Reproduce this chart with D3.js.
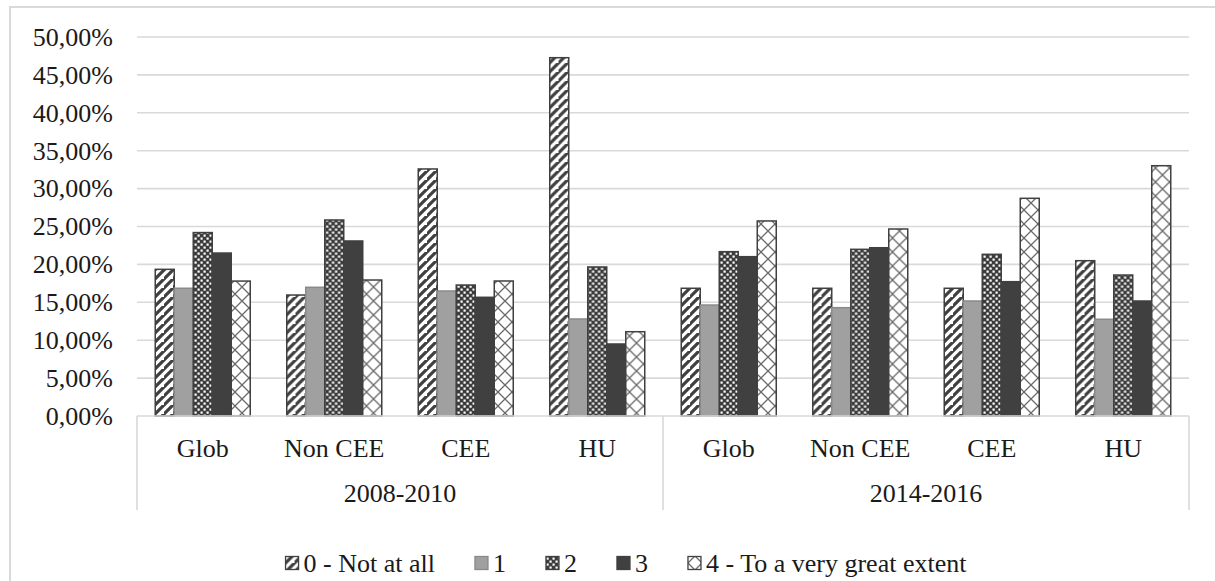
<!DOCTYPE html>
<html>
<head>
<meta charset="utf-8">
<script src="https://cdn.jsdelivr.net/npm/d3@7"></script>
<style>
  html, body { margin: 0; padding: 0; background: #fff; }
  svg { display: block; }
  text { font-family: "Liberation Serif", "Times New Roman", serif; fill: #1a1a1a; }
</style>
</head>
<body>
<svg id="chart" width="1215" height="581"></svg>
<script>
// Survey periods and regions (two-level category axis)
const periods = ["2008-2010", "2014-2016"];
const regions = ["Glob", "Non CEE", "CEE", "HU"];

// Answer scale (legend entries)
const seriesNames = ["0 - Not at all", "1", "2", "3", "4 - To a very great extent"];

// Share of answers (%) per region, 2008-2010 first then 2014-2016
const notAtAll   = [19.35, 15.96, 32.59, 47.27, 16.85, 16.85, 16.85, 20.49];
const level1     = [16.85, 16.98, 16.49, 12.80, 14.64, 14.29, 15.17, 12.76];
const level2     = [24.20, 25.86, 17.28, 19.66, 21.68, 21.99, 21.33, 18.60];
const level3     = [21.50, 23.09, 15.66,  9.50, 21.02, 22.20, 17.72, 15.17];
const veryGreat  = [17.80, 17.94, 17.81, 11.12, 25.73, 24.67, 28.72, 33.02];

const seriesValues = [notAtAll, level1, level2, level3, veryGreat];
const yTicks = [0, 5, 10, 15, 20, 25, 30, 35, 40, 45, 50];

const svg = d3.select("#chart");
const plot = { left: 137, right: 1189, top: 37, bottom: 416 };

// ---------- fill patterns ----------
const defs = svg.append("defs");
const dark = "#404040";

// wide upward diagonal
const p0 = defs.append("pattern").attr("id", "pat0").attr("patternUnits", "userSpaceOnUse")
  .attr("width", 9).attr("height", 9);
p0.append("rect").attr("width", 9).attr("height", 9).attr("fill", "#fff");
p0.append("path").attr("d", "M-2,11 L11,-2 M-11,11 L2,-2 M7,20 L20,7")
  .attr("stroke", dark).attr("stroke-width", 3.2);

// checker dots
const p2 = defs.append("pattern").attr("id", "pat2").attr("patternUnits", "userSpaceOnUse")
  .attr("width", 6).attr("height", 6);
p2.append("rect").attr("width", 6).attr("height", 6).attr("fill", "#3c3c3c");
p2.append("rect").attr("x", 0.5).attr("y", 0.5).attr("width", 2.2).attr("height", 2.2).attr("fill", "#fff");
p2.append("rect").attr("x", 3.5).attr("y", 3.5).attr("width", 2.2).attr("height", 2.2).attr("fill", "#fff");

// outlined diamond
const p4 = defs.append("pattern").attr("id", "pat4").attr("patternUnits", "userSpaceOnUse")
  .attr("width", 14).attr("height", 14);
p4.append("rect").attr("width", 14).attr("height", 14).attr("fill", "#fff");
p4.append("path").attr("d", "M0,0 L14,14 M14,0 L0,14")
  .attr("stroke", "#6a6a6a").attr("stroke-width", 1.3);

const fills   = ["url(#pat0)", "#a0a0a0", "url(#pat2)", dark, "url(#pat4)"];
const strokes = [dark, "#8a8a8a", dark, dark, dark];

// ---------- outer frame ----------
svg.append("path")
  .attr("d", "M10,581 L10,7 L1215,7")
  .attr("fill", "none").attr("stroke", "#d9d9d9").attr("stroke-width", 2);

// ---------- scales ----------
const keys = [];
periods.forEach(p => regions.forEach(r => keys.push(p + "|" + r)));

const x0 = d3.scaleBand().domain(keys).range([plot.left, plot.right]).paddingInner(0).paddingOuter(0);
const x1 = d3.scaleBand().domain(d3.range(seriesNames.length)).range([0, x0.bandwidth()])
  .paddingInner(0).paddingOuter(0.96);
const y = d3.scaleLinear().domain([0, 50]).range([plot.bottom, plot.top]);

const locale = d3.formatLocale({ decimal: ",", thousands: " ", grouping: [3], currency: ["", ""] });
const fmt = locale.format(".2f");

// ---------- gridlines ----------
svg.append("g").selectAll("line").data(yTicks.filter(t => t > 0)).join("line")
  .attr("x1", plot.left).attr("x2", plot.right)
  .attr("y1", d => y(d)).attr("y2", d => y(d))
  .attr("stroke", "#d9d9d9").attr("stroke-width", 1.6);

// ---------- y axis labels ----------
const yAxis = d3.axisLeft(y).tickValues(yTicks).tickSize(0).tickPadding(24)
  .tickFormat(d => fmt(d) + "%");
const gy = svg.append("g").attr("transform", `translate(${plot.left},0)`).call(yAxis);
gy.select(".domain").remove();
gy.selectAll("text").attr("font-size", 26).attr("font-family", "Liberation Serif").attr("fill", "#1a1a1a");

// ---------- bars ----------
const groups = svg.append("g").selectAll("g").data(keys).join("g")
  .attr("transform", d => `translate(${x0(d)},0)`);

groups.selectAll("rect")
  .data((k, i) => seriesValues.map((vals, s) => ({ s, v: vals[i] })))
  .join("rect")
  .attr("x", d => x1(d.s))
  .attr("width", x1.bandwidth())
  .attr("y", d => y(d.v))
  .attr("height", d => y(0) - y(d.v))
  .attr("fill", d => fills[d.s])
  .attr("stroke", d => strokes[d.s])
  .attr("stroke-width", 1.5);

// ---------- category axis ----------
const axisColor = "#d9d9d9";
const catBottom = 510;
svg.append("line").attr("x1", plot.left).attr("x2", plot.right)
  .attr("y1", plot.bottom).attr("y2", plot.bottom)
  .attr("stroke", axisColor).attr("stroke-width", 1.6);

const periodScale = d3.scaleBand().domain(periods).range([plot.left, plot.right]);
const dividers = [plot.left, ...periods.map(p => periodScale(p) + periodScale.bandwidth())];
svg.append("g").selectAll("line").data(dividers).join("line")
  .attr("x1", d => d).attr("x2", d => d)
  .attr("y1", plot.bottom).attr("y2", catBottom)
  .attr("stroke", axisColor).attr("stroke-width", 1.6);

svg.append("g").selectAll("text").data(keys).join("text")
  .attr("x", d => x0(d) + x0.bandwidth() / 2)
  .attr("y", 457)
  .attr("text-anchor", "middle")
  .attr("font-size", 26)
  .text(d => d.split("|")[1]);

svg.append("g").selectAll("text").data(periods).join("text")
  .attr("x", d => periodScale(d) + periodScale.bandwidth() / 2)
  .attr("y", 502)
  .attr("text-anchor", "middle")
  .attr("font-size", 26)
  .text(d => d);

// ---------- legend ----------
const legend = svg.append("g");
const iconSize = 13, iconGap = 5, itemGap = 40;
const items = legend.selectAll("g").data(seriesNames).join("g");
items.append("rect")
  .attr("width", iconSize).attr("height", iconSize)
  .attr("y", -iconSize / 2)
  .attr("fill", (d, i) => fills[i])
  .attr("stroke", (d, i) => strokes[i]).attr("stroke-width", 1.3);
items.append("text")
  .attr("x", iconSize + iconGap)
  .attr("dy", "0.35em")
  .attr("font-size", 26)
  .text(d => d);

let cursor = 0;
const widths = [];
items.each(function () {
  const w = iconSize + iconGap + d3.select(this).select("text").node().getComputedTextLength();
  widths.push(w);
});
const total = d3.sum(widths) + itemGap * (widths.length - 1);
const startX = 626 - total / 2;
items.attr("transform", (d, i) => {
  const tx = startX + cursor;
  cursor += widths[i] + itemGap;
  return `translate(${tx},563)`;
});
</script>
</body>
</html>
